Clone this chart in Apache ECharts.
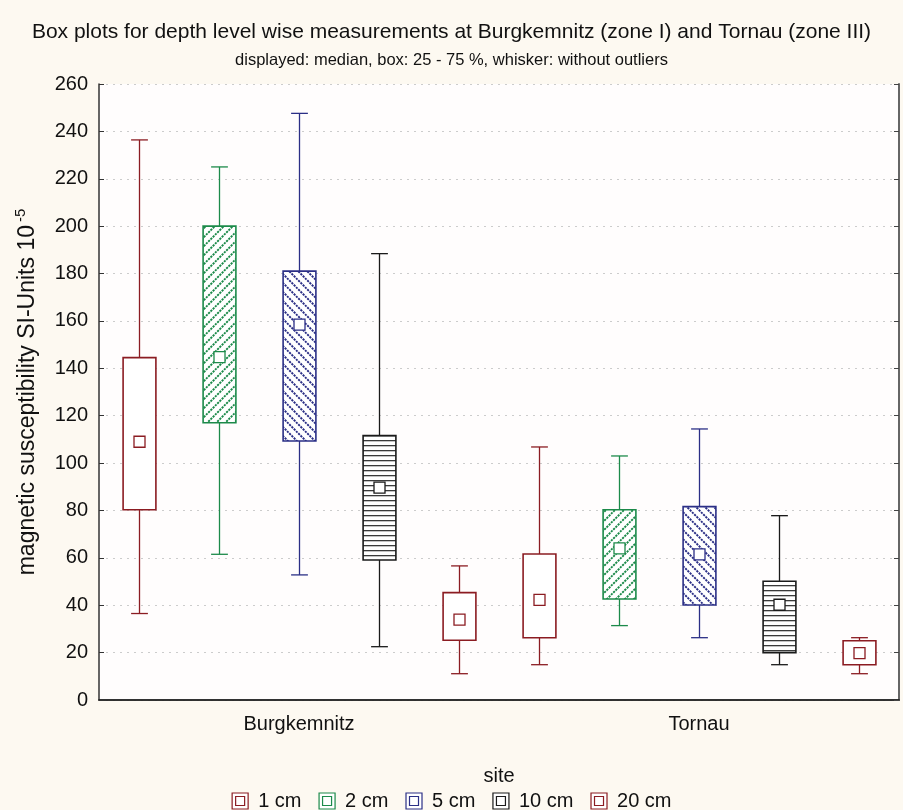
<!DOCTYPE html>
<html>
<head>
<meta charset="utf-8">
<script src="https://cdn.jsdelivr.net/npm/echarts@6/dist/echarts.min.js"></script>
<style>
  html, body { margin: 0; padding: 0; background: #fdf9f1; }
  #chart { width: 903px; height: 810px; }
</style>
</head>
<body>
<div id="chart"></div>
<script>
// sites on the x axis, depth levels as series
var sites = ['Burgkemnitz', 'Tornau'];
var depths = ['1 cm', '2 cm', '5 cm', '10 cm', '20 cm'];

// [min, q1, median, q3, max] per site
var box1cm  = [[36.5, 80.3, 109.0, 144.5, 236.4], [14.9, 26.3, 42.3, 61.6, 106.8]];
var box2cm  = [[61.5, 117.0, 144.7, 200.0, 225.0], [31.4, 42.6, 64.0, 80.3, 103.0]];
var box5cm  = [[52.8, 109.3, 158.4, 181.0, 247.6], [26.3, 40.1, 61.5, 81.6, 114.4]];
var box10cm = [[22.5, 59.1, 89.6, 111.6, 188.4], [14.9, 20.0, 40.2, 50.1, 77.8]];
var box20cm = [[11.1, 25.2, 33.9, 45.3, 56.6], [11.1, 14.9, 19.8, 25.0, 26.3]];

var boxes = [box1cm, box2cm, box5cm, box10cm, box20cm];
var colors = ['#8b1c22', '#1c8a4a', '#2b2f86', '#1a1a1a', '#8b1c22'];
var fills = ['none', 'up', 'down', 'flat', 'none'];
var FONT = 'Liberation Sans, Arial, sans-serif';

function makePattern(kind, color) {
  if (kind === 'none') return '#ffffff';
  var c = document.createElement('canvas');
  var g = c.getContext('2d');
  if (kind === 'flat') {
    c.width = 4; c.height = 5;
    g.fillStyle = '#ffffff'; g.fillRect(0, 0, 4, 5);
    g.fillStyle = '#3a3a3a'; g.fillRect(0, 0, 4, 1.3);
  } else {
    var s = 9;
    c.width = s; c.height = s;
    g.fillStyle = '#ffffff'; g.fillRect(0, 0, s, s);
    g.strokeStyle = color; g.lineWidth = 1.9;
    g.setLineDash([2.2, 1]);
    g.beginPath();
    if (kind === 'up') {
      g.moveTo(-1, s + 1); g.lineTo(s + 1, -1);
      g.moveTo(-1, 1); g.lineTo(1, -1);
      g.moveTo(s - 1, s + 1); g.lineTo(s + 1, s - 1);
    } else {
      g.moveTo(-1, -1); g.lineTo(s + 1, s + 1);
      g.moveTo(s - 1, -1); g.lineTo(s + 1, 1);
      g.moveTo(-1, s - 1); g.lineTo(1, s + 1);
    }
    g.stroke();
  }
  return { image: c, repeat: 'repeat' };
}

function boxRenderer(k) {
  return function (params, api) {
    var cat = api.value(0);
    var band = api.size([1, 0])[0];
    var cx = Math.round(api.coord([cat, 0])[0] + (k - 2) * band / 5) + 0.5;
    var y = function (i) { return api.coord([cat, api.value(i)])[1]; };
    var boxW = band * 0.082, capW = band * 0.042, mk = 11;
    var col = colors[k];
    var line = { stroke: col, lineWidth: 1.3 };
    return {
      type: 'group',
      children: [
        { type: 'line', shape: { x1: cx, y1: y(4), x2: cx, y2: y(5) }, style: line },
        { type: 'line', shape: { x1: cx - capW / 2, y1: y(5), x2: cx + capW / 2, y2: y(5) }, style: line },
        { type: 'line', shape: { x1: cx, y1: y(1), x2: cx, y2: y(2) }, style: line },
        { type: 'line', shape: { x1: cx - capW / 2, y1: y(1), x2: cx + capW / 2, y2: y(1) }, style: line },
        { type: 'rect', shape: { x: cx - boxW / 2, y: y(4), width: boxW, height: y(2) - y(4) },
          style: { fill: makePattern(fills[k], col), stroke: col, lineWidth: 1.6 } },
        { type: 'rect', shape: { x: cx - mk / 2, y: y(3) - mk / 2, width: mk, height: mk },
          style: { fill: '#ffffff', stroke: col, lineWidth: 1.3 } }
      ]
    };
  };
}

var series = depths.map(function (name, k) {
  return {
    name: name,
    type: 'custom',
    renderItem: boxRenderer(k),
    itemStyle: { color: colors[k] },
    encode: { x: 0, y: [1, 2, 3, 4, 5] },
    data: boxes[k].map(function (b, i) { return [i].concat(b); }),
    z: 3
  };
});

var chart = echarts.init(document.getElementById('chart'));
chart.setOption({
  backgroundColor: '#fdf9f1',
  animation: false,
  textStyle: { fontFamily: FONT },
  title: {
    text: 'Box plots for depth level wise measurements at Burgkemnitz (zone I) and Tornau (zone III)',
    subtext: 'displayed: median, box: 25 - 75 %, whisker: without outliers',
    left: 'center',
    top: 17,
    itemGap: 9,
    textStyle: { fontFamily: FONT, fontSize: 21, fontWeight: 'normal', color: '#111' },
    subtextStyle: { fontFamily: FONT, fontSize: 16.5, color: '#111' }
  },
  legend: {
    top: 786,
    left: 'center',
    itemGap: 17,
    itemWidth: 16,
    itemHeight: 16,
    textStyle: { fontFamily: FONT, fontSize: 20, color: '#111', padding: [0, 0, 0, 5] },
    data: depths.map(function (d, k) {
      return {
        name: d,
        icon: 'path://M0,0H16V16H0Z M3.5,3.5H12.5V12.5H3.5Z',
        itemStyle: { color: '#ffffff', borderColor: colors[k], borderWidth: 1.2 }
      };
    })
  },
  grid: {
    left: 99, right: 4, top: 84, bottom: 110,
    outerBoundsMode: 'none',
    show: true, backgroundColor: '#fffdfd', borderWidth: 0
  },
  xAxis: [{
    type: 'category',
    data: sites,
    name: 'site',
    nameLocation: 'middle',
    nameGap: 66,
    nameTextStyle: { fontFamily: FONT, fontSize: 20, color: '#111' },
    axisLine: { lineStyle: { color: '#333', width: 1.5 } },
    axisTick: { inside: true, alignWithLabel: true, length: 5, lineStyle: { color: '#333' } },
    axisLabel: { fontFamily: FONT, fontSize: 20, color: '#111', margin: 14 },
    splitLine: { show: false }
  }, {
    type: 'category',
    data: sites,
    position: 'top',
    axisLine: { lineStyle: { color: '#222', width: 1.5 } },
    axisTick: { inside: true, alignWithLabel: true, length: 5, lineStyle: { color: '#333' } },
    axisLabel: { show: false },
    splitLine: { show: false }
  }],
  yAxis: [{
    type: 'value',
    min: 0, max: 260, interval: 20,
    name: '{a|magnetic susceptibility SI-Units 10}{s|-5}',
    nameLocation: 'middle',
    nameGap: 57,
    nameTextStyle: {
      rich: {
        a: { fontFamily: FONT, fontSize: 23, color: '#111' },
        s: { fontFamily: FONT, fontSize: 15, color: '#111', padding: [0, 0, 14, 3] }
      }
    },
    axisLine: { show: true, lineStyle: { color: '#333', width: 1.5 } },
    axisTick: { show: true, inside: true, length: 5, lineStyle: { color: '#333' } },
    axisLabel: { fontFamily: FONT, fontSize: 20, color: '#111', margin: 11 },
    splitLine: { show: true, lineStyle: { color: '#cccccc', type: [2, 5], width: 1 } }
  }, {
    type: 'value',
    min: 0, max: 260, interval: 20,
    position: 'right',
    axisLine: { show: true, lineStyle: { color: '#666', width: 2 } },
    axisTick: { show: true, inside: true, length: 5, lineStyle: { color: '#444' } },
    axisLabel: { show: false },
    splitLine: { show: false }
  }],
  series: series
});
</script>
</body>
</html>
